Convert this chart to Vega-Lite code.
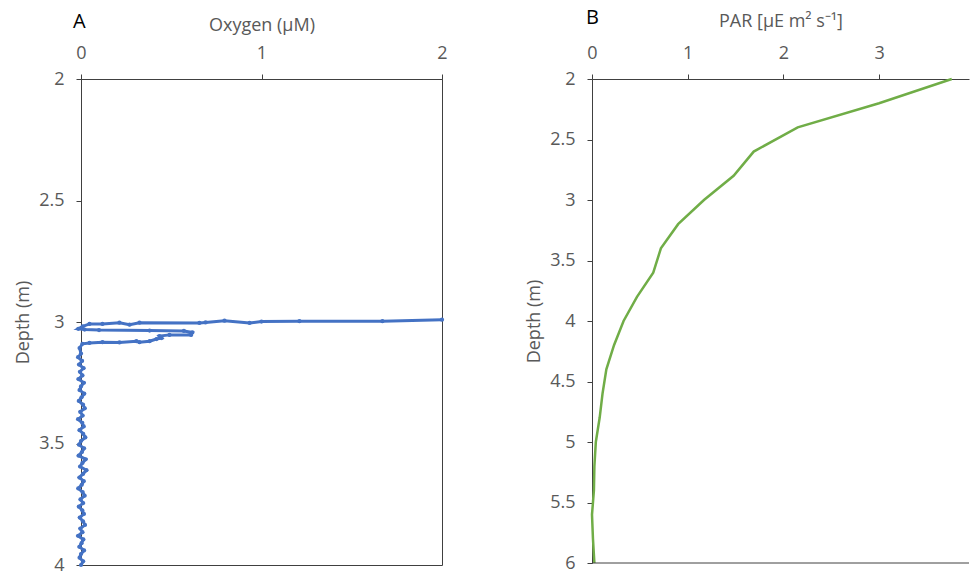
{
  "$schema": "https://vega.github.io/schema/vega-lite/v6.json",
  "padding": {"left": 14, "top": 8, "right": 0, "bottom": 5},
  "background": "white",
  "spacing": 76,
  "config": {
    "font": "Open Sans",
    "view": {"stroke": null},
    "axis": {
      "grid": false,
      "domainColor": "#404040",
      "tickColor": "#404040",
      "tickSize": 5,
      "labelColor": "#595959",
      "titleColor": "#595959",
      "labelFontSize": 18,
      "titleFontSize": 18,
      "titleFontWeight": "normal",
      "labelFont": "Open Sans",
      "titleFont": "Open Sans",
      "labelFlush": false
    },
    "title": {"font": "Open Sans", "fontSize": 20, "fontWeight": "normal", "color": "#000000"}
  },
  "datasets": {
    "oxygen": [
      {"depth": 2.9905, "oxygen": 2.0},
      {"depth": 2.9967, "oxygen": 1.67},
      {"depth": 2.9967, "oxygen": 1.21},
      {"depth": 2.998, "oxygen": 1.0},
      {"depth": 3.004, "oxygen": 0.934},
      {"depth": 2.9947, "oxygen": 0.795},
      {"depth": 3.002, "oxygen": 0.69},
      {"depth": 3.004, "oxygen": 0.656},
      {"depth": 3.003, "oxygen": 0.324},
      {"depth": 3.011, "oxygen": 0.269},
      {"depth": 3.003, "oxygen": 0.213},
      {"depth": 3.008, "oxygen": 0.119},
      {"depth": 3.008, "oxygen": 0.047},
      {"depth": 3.018, "oxygen": 0.01},
      {"depth": 3.028, "oxygen": -0.015},
      {"depth": 3.031, "oxygen": 0.02},
      {"depth": 3.033, "oxygen": 0.1},
      {"depth": 3.035, "oxygen": 0.38},
      {"depth": 3.037, "oxygen": 0.57},
      {"depth": 3.043, "oxygen": 0.617},
      {"depth": 3.053, "oxygen": 0.61},
      {"depth": 3.053, "oxygen": 0.49},
      {"depth": 3.058, "oxygen": 0.435},
      {"depth": 3.066, "oxygen": 0.446},
      {"depth": 3.07, "oxygen": 0.418},
      {"depth": 3.079, "oxygen": 0.38},
      {"depth": 3.083, "oxygen": 0.324},
      {"depth": 3.079, "oxygen": 0.307},
      {"depth": 3.084, "oxygen": 0.213},
      {"depth": 3.083, "oxygen": 0.119},
      {"depth": 3.086, "oxygen": 0.047},
      {"depth": 3.09, "oxygen": 0.008},
      {"depth": 3.107, "oxygen": -0.008},
      {"depth": 3.13, "oxygen": 0.0},
      {"depth": 3.145, "oxygen": -0.016},
      {"depth": 3.16, "oxygen": 0.006},
      {"depth": 3.175, "oxygen": -0.011},
      {"depth": 3.19, "oxygen": 0.014},
      {"depth": 3.205, "oxygen": -0.006},
      {"depth": 3.22, "oxygen": 0.008},
      {"depth": 3.235, "oxygen": -0.014},
      {"depth": 3.25, "oxygen": 0.016},
      {"depth": 3.265, "oxygen": 0.0},
      {"depth": 3.28, "oxygen": -0.008},
      {"depth": 3.295, "oxygen": 0.018},
      {"depth": 3.31, "oxygen": 0.003},
      {"depth": 3.325, "oxygen": -0.012},
      {"depth": 3.34, "oxygen": 0.011},
      {"depth": 3.355, "oxygen": 0.021},
      {"depth": 3.37, "oxygen": -0.004},
      {"depth": 3.385, "oxygen": 0.009},
      {"depth": 3.4, "oxygen": -0.016},
      {"depth": 3.415, "oxygen": 0.007},
      {"depth": 3.43, "oxygen": 0.015},
      {"depth": 3.445, "oxygen": -0.008},
      {"depth": 3.46, "oxygen": 0.012},
      {"depth": 3.475, "oxygen": 0.024},
      {"depth": 3.49, "oxygen": 0.0},
      {"depth": 3.505, "oxygen": -0.011},
      {"depth": 3.52, "oxygen": 0.017},
      {"depth": 3.535, "oxygen": 0.005},
      {"depth": 3.55, "oxygen": -0.013},
      {"depth": 3.565, "oxygen": 0.026},
      {"depth": 3.58, "oxygen": 0.008},
      {"depth": 3.595, "oxygen": -0.005},
      {"depth": 3.61, "oxygen": 0.03},
      {"depth": 3.625, "oxygen": 0.011},
      {"depth": 3.64, "oxygen": -0.009},
      {"depth": 3.655, "oxygen": 0.015},
      {"depth": 3.67, "oxygen": 0.004},
      {"depth": 3.685, "oxygen": -0.015},
      {"depth": 3.7, "oxygen": 0.009},
      {"depth": 3.715, "oxygen": 0.02},
      {"depth": 3.73, "oxygen": -0.003},
      {"depth": 3.745, "oxygen": 0.012},
      {"depth": 3.76, "oxygen": -0.012},
      {"depth": 3.775, "oxygen": 0.007},
      {"depth": 3.79, "oxygen": 0.016},
      {"depth": 3.805, "oxygen": -0.007},
      {"depth": 3.82, "oxygen": 0.011},
      {"depth": 3.835, "oxygen": 0.022},
      {"depth": 3.85, "oxygen": -0.004},
      {"depth": 3.865, "oxygen": 0.008},
      {"depth": 3.88, "oxygen": -0.016},
      {"depth": 3.895, "oxygen": 0.013},
      {"depth": 3.91, "oxygen": 0.003},
      {"depth": 3.925, "oxygen": -0.009},
      {"depth": 3.94, "oxygen": 0.017},
      {"depth": 3.955, "oxygen": 0.0},
      {"depth": 3.97, "oxygen": -0.008},
      {"depth": 3.985, "oxygen": 0.012},
      {"depth": 4.0, "oxygen": 0.0}
    ],
    "par": [
      {"depth": 2.0, "par": 3.76},
      {"depth": 2.2, "par": 3.0},
      {"depth": 2.4, "par": 2.15},
      {"depth": 2.6, "par": 1.69},
      {"depth": 2.8, "par": 1.48},
      {"depth": 3.0, "par": 1.17},
      {"depth": 3.2, "par": 0.9},
      {"depth": 3.4, "par": 0.72},
      {"depth": 3.6, "par": 0.64},
      {"depth": 3.8, "par": 0.47},
      {"depth": 4.0, "par": 0.33},
      {"depth": 4.2, "par": 0.23},
      {"depth": 4.4, "par": 0.15},
      {"depth": 4.6, "par": 0.11},
      {"depth": 4.8, "par": 0.08},
      {"depth": 5.0, "par": 0.04},
      {"depth": 5.2, "par": 0.025},
      {"depth": 5.4, "par": 0.02},
      {"depth": 5.6, "par": 0.0},
      {"depth": 5.8, "par": 0.01},
      {"depth": 6.0, "par": 0.025}
    ]
  },
  "hconcat": [
    {
      "vconcat": [
        {
          "width": 361,
          "height": 486,
          "view": {"stroke": "#404040", "strokeWidth": 1},
          "title": {"text": "A", "anchor": "start", "frame": "group", "dx": -8, "offset": -16},
          "data": {"name": "oxygen"},
          "encoding": {
            "x": {
              "field": "oxygen", "type": "quantitative",
              "scale": {"domain": [0, 2], "nice": false, "zero": false},
              "axis": {"orient": "top", "values": [0, 1, 2], "format": "~g", "title": "Oxygen (µM)", "labelPadding": 12, "titlePadding": 10}
            },
            "y": {
              "field": "depth", "type": "quantitative",
              "scale": {"domain": [2, 4], "nice": false, "zero": false, "reverse": true},
              "axis": {"values": [2, 2.5, 3, 3.5, 4], "format": "~g", "title": "Depth (m)", "labelPadding": 12, "titlePadding": 6}
            },
            "order": {"value": null}
          },
          "layer": [
            {"mark": {"type": "line", "color": "#4472C4", "strokeWidth": 3}},
            {"mark": {"type": "point", "filled": true, "color": "#4472C4", "size": 18, "opacity": 1}}
          ]
        }
      ]
    },
    {
      "vconcat": [
        {
          "width": 377,
          "height": 484,
          "title": {"text": "B", "anchor": "start", "frame": "group", "dx": -6, "offset": -16},
          "layer": [
            {
              "data": {"name": "par"},
              "mark": {"type": "line", "color": "#70AD47", "strokeWidth": 2.5},
              "encoding": {
                "x": {
                  "field": "par", "type": "quantitative",
                  "scale": {"domain": [0, 3.94], "nice": false, "zero": false},
                  "axis": {"orient": "top", "values": [0, 1, 2, 3], "format": "~g", "title": "PAR [µE m² s⁻¹]", "labelPadding": 12, "titlePadding": 14}
                },
                "y": {
                  "field": "depth", "type": "quantitative",
                  "scale": {"domain": [2, 6], "nice": false, "zero": false, "reverse": true},
                  "axis": {"values": [2, 2.5, 3, 3.5, 4, 4.5, 5, 5.5, 6], "format": "~g", "title": "Depth (m)", "labelPadding": 12, "titlePadding": 6}
                },
                "order": {"value": null}
              }
            },
            {
              "data": {"values": [{"depth": 6}]},
              "mark": {"type": "rule", "color": "#404040", "strokeWidth": 1},
              "encoding": {"y": {"field": "depth", "type": "quantitative"}}
            }
          ]
        }
      ]
    }
  ]
}
